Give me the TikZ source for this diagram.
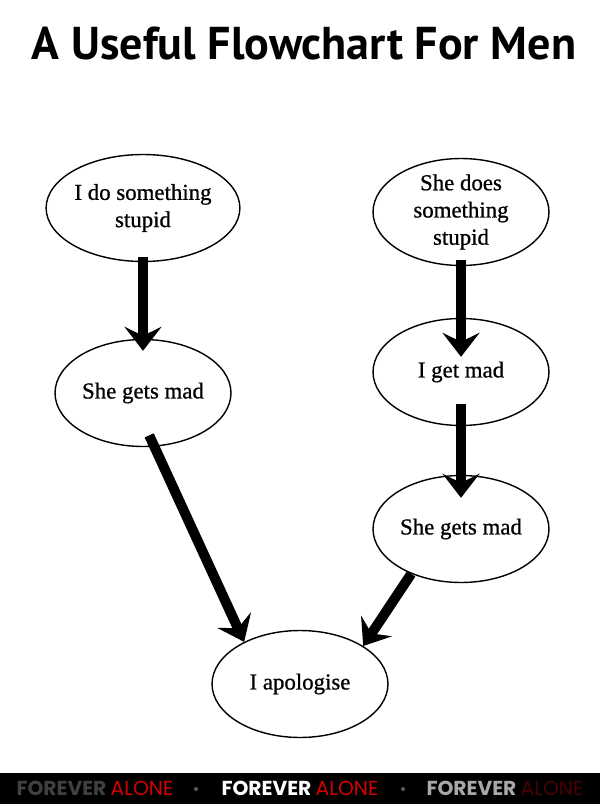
\documentclass[tikz,border=0pt]{standalone}
\usepackage{fontspec}
\setmainfont{Liberation Serif}
\newfontface\bubblefont{Liberation Serif}[FakeBold=0.8]
\newfontfamily\titlefont{PT Sans}
\newfontfamily\bannerfont{Poppins}
\usetikzlibrary{shapes.geometric,arrows.meta,positioning}
\definecolor{alonered}{HTML}{d40000}
\definecolor{alonedark}{HTML}{4a0000}
\definecolor{foredark}{HTML}{404040}
\definecolor{forelight}{HTML}{a8a8a8}
\definecolor{sepdot}{HTML}{5a5a5a}

\begin{document}
\begin{tikzpicture}[x=0.02cm, y=-0.02cm,
    bubble/.style={ellipse, draw, line width=0.8pt, minimum width=3.52cm,
                   minimum height=2.14cm, inner sep=0pt, align=center,
                   font=\bubblefont\fontsize{13}{15.5}\selectfont},
    push/.style={line width=0.2cm,
                 -{Stealth[length=0.48cm, width=0.74cm, inset=0.18cm]}},
    tag/.style={anchor=base, font=\bannerfont\fontsize{11.5}{12}\selectfont},
    sep/.style={circle, fill=sepdot, inner sep=0pt, minimum size=0.08cm},
]
\useasboundingbox (0,0) rectangle (600,804);
\fill[white] (0,0) rectangle (600,804);

\node[anchor=base, font=\titlefont\bfseries\fontsize{26.2}{30}\selectfont] (title) at (304,60) {A Useful Flowchart For Men};

\node[bubble] (ido) at (143,208) {I do something\\stupid};
\node[bubble] (shemad) at (143,393) {She gets mad};
\node[bubble] (shedoes) at (461,212) {She does\\something\\stupid};
\node[bubble] (imad) at (461,372) {I get mad};
\node[bubble] (shemad2) at (461,529) {She gets mad};
\node[bubble] (sorry) at (300,684) {I apologise};

\draw[push, shorten <=-0.1cm, shorten >=-0.24cm] (ido.south) -- (shemad.north);
\draw[push, shorten <=-0.12cm, shorten >=-0.78cm] (shedoes.south) -- (imad.north);
\draw[push, shorten <=-0.44cm, shorten >=-0.46cm] (imad.south) -- (shemad2.north);
\draw[push, shorten <=-0.25cm] (shemad.-78) -- (sorry.143);
\draw[push] (shemad2.222) -- (sorry.31);

\fill[black] (0,773) rectangle (600,804);
\node[tag, text=foredark] (tagA) at (95,795) {\bfseries FOREVER \textcolor{alonered}{\mdseries ALONE}};
\node[tag, text=white] (tagB) at (300,795) {\bfseries FOREVER \textcolor{alonered}{\mdseries ALONE}};
\node[tag, text=forelight] (tagC) at (505,795) {\bfseries FOREVER \textcolor{alonedark}{\mdseries ALONE}};
\node[sep] (dotA) at (196,789) {};
\node[sep] (dotB) at (403,789) {};
\end{tikzpicture}
\end{document}
